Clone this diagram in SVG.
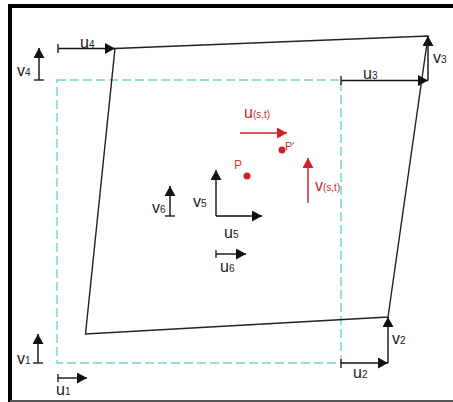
<svg xmlns="http://www.w3.org/2000/svg" width="453" height="402" viewBox="0 0 453 402">
<style>
text{font-family:"Liberation Sans",Arial,sans-serif;fill:#222;font-size:16px}
.sub{font-size:10px}
.red{fill:#c0282a}
.ln{stroke:#222;stroke-width:1.4;fill:none}
.ar{stroke:#111;stroke-width:1.4;fill:none;marker-end:url(#ah)}
.rar{stroke:#c8282a;stroke-width:1.5;fill:none;marker-end:url(#rh)}
</style>
<defs>
<marker id="ah" markerUnits="userSpaceOnUse" markerWidth="11" markerHeight="11" refX="10" refY="5.5" orient="auto"><path d="M0,0 L10,5.5 L0,11 z" fill="#111"/></marker>
<marker id="rh" markerUnits="userSpaceOnUse" markerWidth="11" markerHeight="11" refX="10" refY="5.5" orient="auto"><path d="M0,0 L10,5.5 L0,11 z" fill="#d0202a"/></marker>
</defs>
<rect width="453" height="402" fill="#fff"/>
<g id="frame">
<path d="M10,402 V6 H453" fill="none" stroke="#000" stroke-width="4"/>
<path d="M10,401 H453" fill="none" stroke="#555" stroke-width="2"/>
</g>
<g id="original-square">
<rect x="57" y="80" width="284" height="283" fill="none" stroke="#6cd3d3" stroke-width="1.4" stroke-dasharray="9,4"/>
</g>
<g id="deformed-quad">
<path class="ln" d="M115,48.5 L428,36 L388,317 L85.5,334 Z"/>
</g>
<g id="connectors">
<path class="ar" d="M58,48.5 H115"/><path class="ln" d="M58,44 V53"/>
<path class="ar" d="M39,80 V48"/><path class="ln" d="M34,80 H44"/>
<path class="ar" d="M341,80.5 H428"/><path class="ln" d="M341,76 V85"/>
<path class="ar" d="M428,80.5 V36"/>
<path class="ar" d="M341,363 H388"/><path class="ln" d="M341,359 V368"/>
<path class="ar" d="M388,363 V317"/>
<path class="ar" d="M58,378 H87"/><path class="ln" d="M58,374 V382"/>
<path class="ar" d="M38,363 V334"/><path class="ln" d="M33,363 H43"/>
<path class="ar" d="M216,216 V170"/>
<path class="ar" d="M216,216 H262"/>
<path class="ar" d="M170,216 V186"/><path class="ln" d="M165,216 H175"/>
<path class="ar" d="M216,254 H246"/><path class="ln" d="M216,250 V258"/>
<path class="rar" d="M240,133 H287"/>
<path class="rar" d="M308,203 V158"/>
</g>
<g id="labels">
<text x="80" y="48">u<tspan class="sub">4</tspan></text>
<text x="17" y="76">v<tspan class="sub">4</tspan></text>
<text x="363" y="79">u<tspan class="sub">3</tspan></text>
<text x="433" y="63">v<tspan class="sub">3</tspan></text>
<text x="353" y="378">u<tspan class="sub">2</tspan></text>
<text x="392" y="344">v<tspan class="sub">2</tspan></text>
<text x="56" y="395">u<tspan class="sub">1</tspan></text>
<text x="17" y="364">v<tspan class="sub">1</tspan></text>
<text x="193" y="207">v<tspan class="sub">5</tspan></text>
<text x="224" y="238">u<tspan class="sub">5</tspan></text>
<text x="152" y="213">v<tspan class="sub">6</tspan></text>
<text x="220" y="272">u<tspan class="sub">6</tspan></text>
</g>
<g id="point-P">
<circle cx="247" cy="176" r="3.5" fill="#d0202a"/>
<text x="234" y="169" class="red" style="font-size:12px;fill:#d04040">P</text>
</g>
<g id="point-P-prime">
<circle cx="282" cy="150" r="3.5" fill="#d0202a"/>
<text x="285" y="150" class="red" style="font-size:11px;fill:#c03030">P'</text>
</g>
<g id="label-u-st">
<text x="244" y="118" class="red">u<tspan class="sub" style="fill:#c03030">(s,t)</tspan></text>
</g>
<g id="label-v-st">
<text x="315" y="191" class="red">v<tspan class="sub" style="fill:#c03030">(s,t)</tspan></text>
</g>
</svg>
